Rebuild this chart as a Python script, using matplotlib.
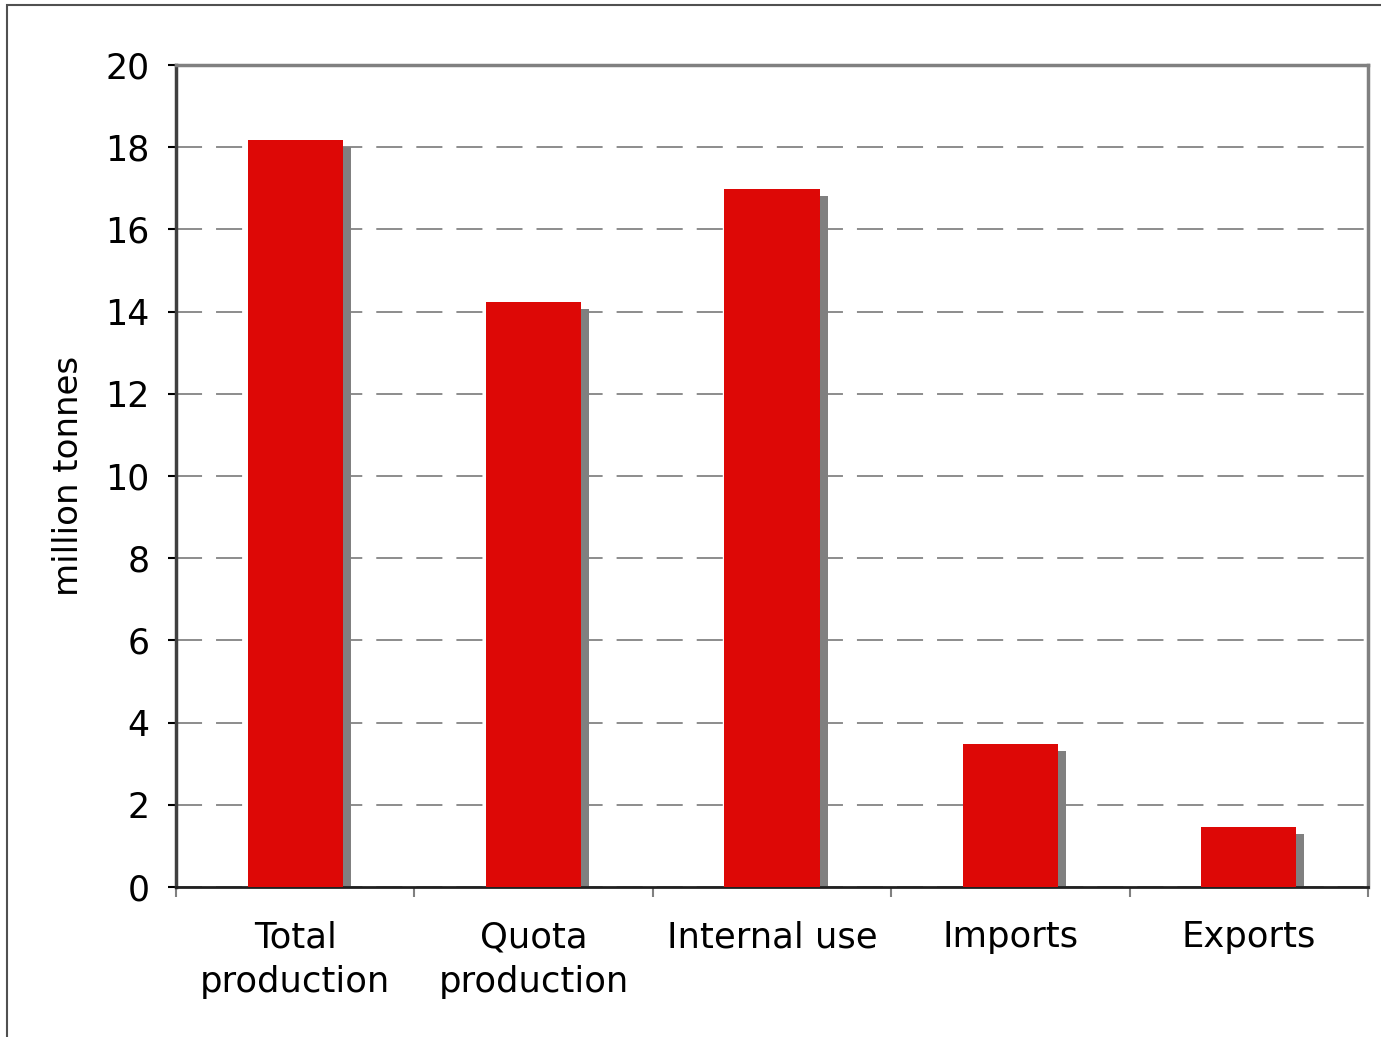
import matplotlib.pyplot as plt
import matplotlib.transforms as mtransforms
from matplotlib.patches import Rectangle
import numpy as np

categories = ["Total\nproduction", "Quota\nproduction", "Internal use", "Imports", "Exports"]
values = [18.17, 14.23, 16.98, 3.48, 1.46]
y_ticks = [0, 2, 4, 6, 8, 10, 12, 14, 16, 18, 20]

W, H = 1381, 1037
fig = plt.figure(figsize=(W / 100, H / 100), dpi=100)
ax = fig.add_axes([176 / W, 1 - 887 / H, (1368 - 176) / W, (887 - 65) / H])

x = np.arange(len(categories))
bar_w = 0.40

# shadow bars, shifted right and down a few pixels
shadow = mtransforms.offset_copy(ax.transData, fig=fig, x=8, y=-7, units="dots")
ax.bar(x, values, width=bar_w, color="#808080", transform=shadow, zorder=2)
ax.bar(x, values, width=bar_w, color="#dd0806", zorder=3)

ax.set_xlim(-0.5, len(categories) - 0.5)
ax.set_ylim(0, 20)
ax.set_yticks(y_ticks)
ax.set_yticklabels([str(v) for v in y_ticks], fontsize=25)
ax.yaxis.grid(True, color="#8c8c8c", linewidth=1.4, dashes=(13.4, 7.2), zorder=1)
ax.set_axisbelow(True)

ax.set_xticks(x)
ax.set_xticklabels(categories, fontsize=25.5, linespacing=1.4)
ax.set_xticks(np.arange(len(categories) + 1) - 0.5, minor=True)
ax.tick_params(axis="x", which="major", length=0, pad=24)
ax.tick_params(axis="x", which="minor", length=7, width=1.5, color="#808080", direction="out")
ax.tick_params(axis="y", length=6, width=1.5, color="black", direction="out", pad=13)

for side in ["top", "right"]:
    ax.spines[side].set_color("#808080")
    ax.spines[side].set_linewidth(2.5)
ax.spines["left"].set_color("#404040")
ax.spines["left"].set_linewidth(2.5)
ax.spines["bottom"].set_color("#202020")
ax.spines["bottom"].set_linewidth(2)

fig.text(68 / W, 1 - 476 / H, "million tonnes", rotation=90, ha="center", va="center", fontsize=24.5)

# frame around the figure (only left and top visible)
fig.patches.append(Rectangle((7 / W, -0.1), 1.2, 1 - 5 / H + 0.1, transform=fig.transFigure,
                             fill=False, edgecolor="#505050", linewidth=1.5))

fig.savefig("out.png", dpi=100)
